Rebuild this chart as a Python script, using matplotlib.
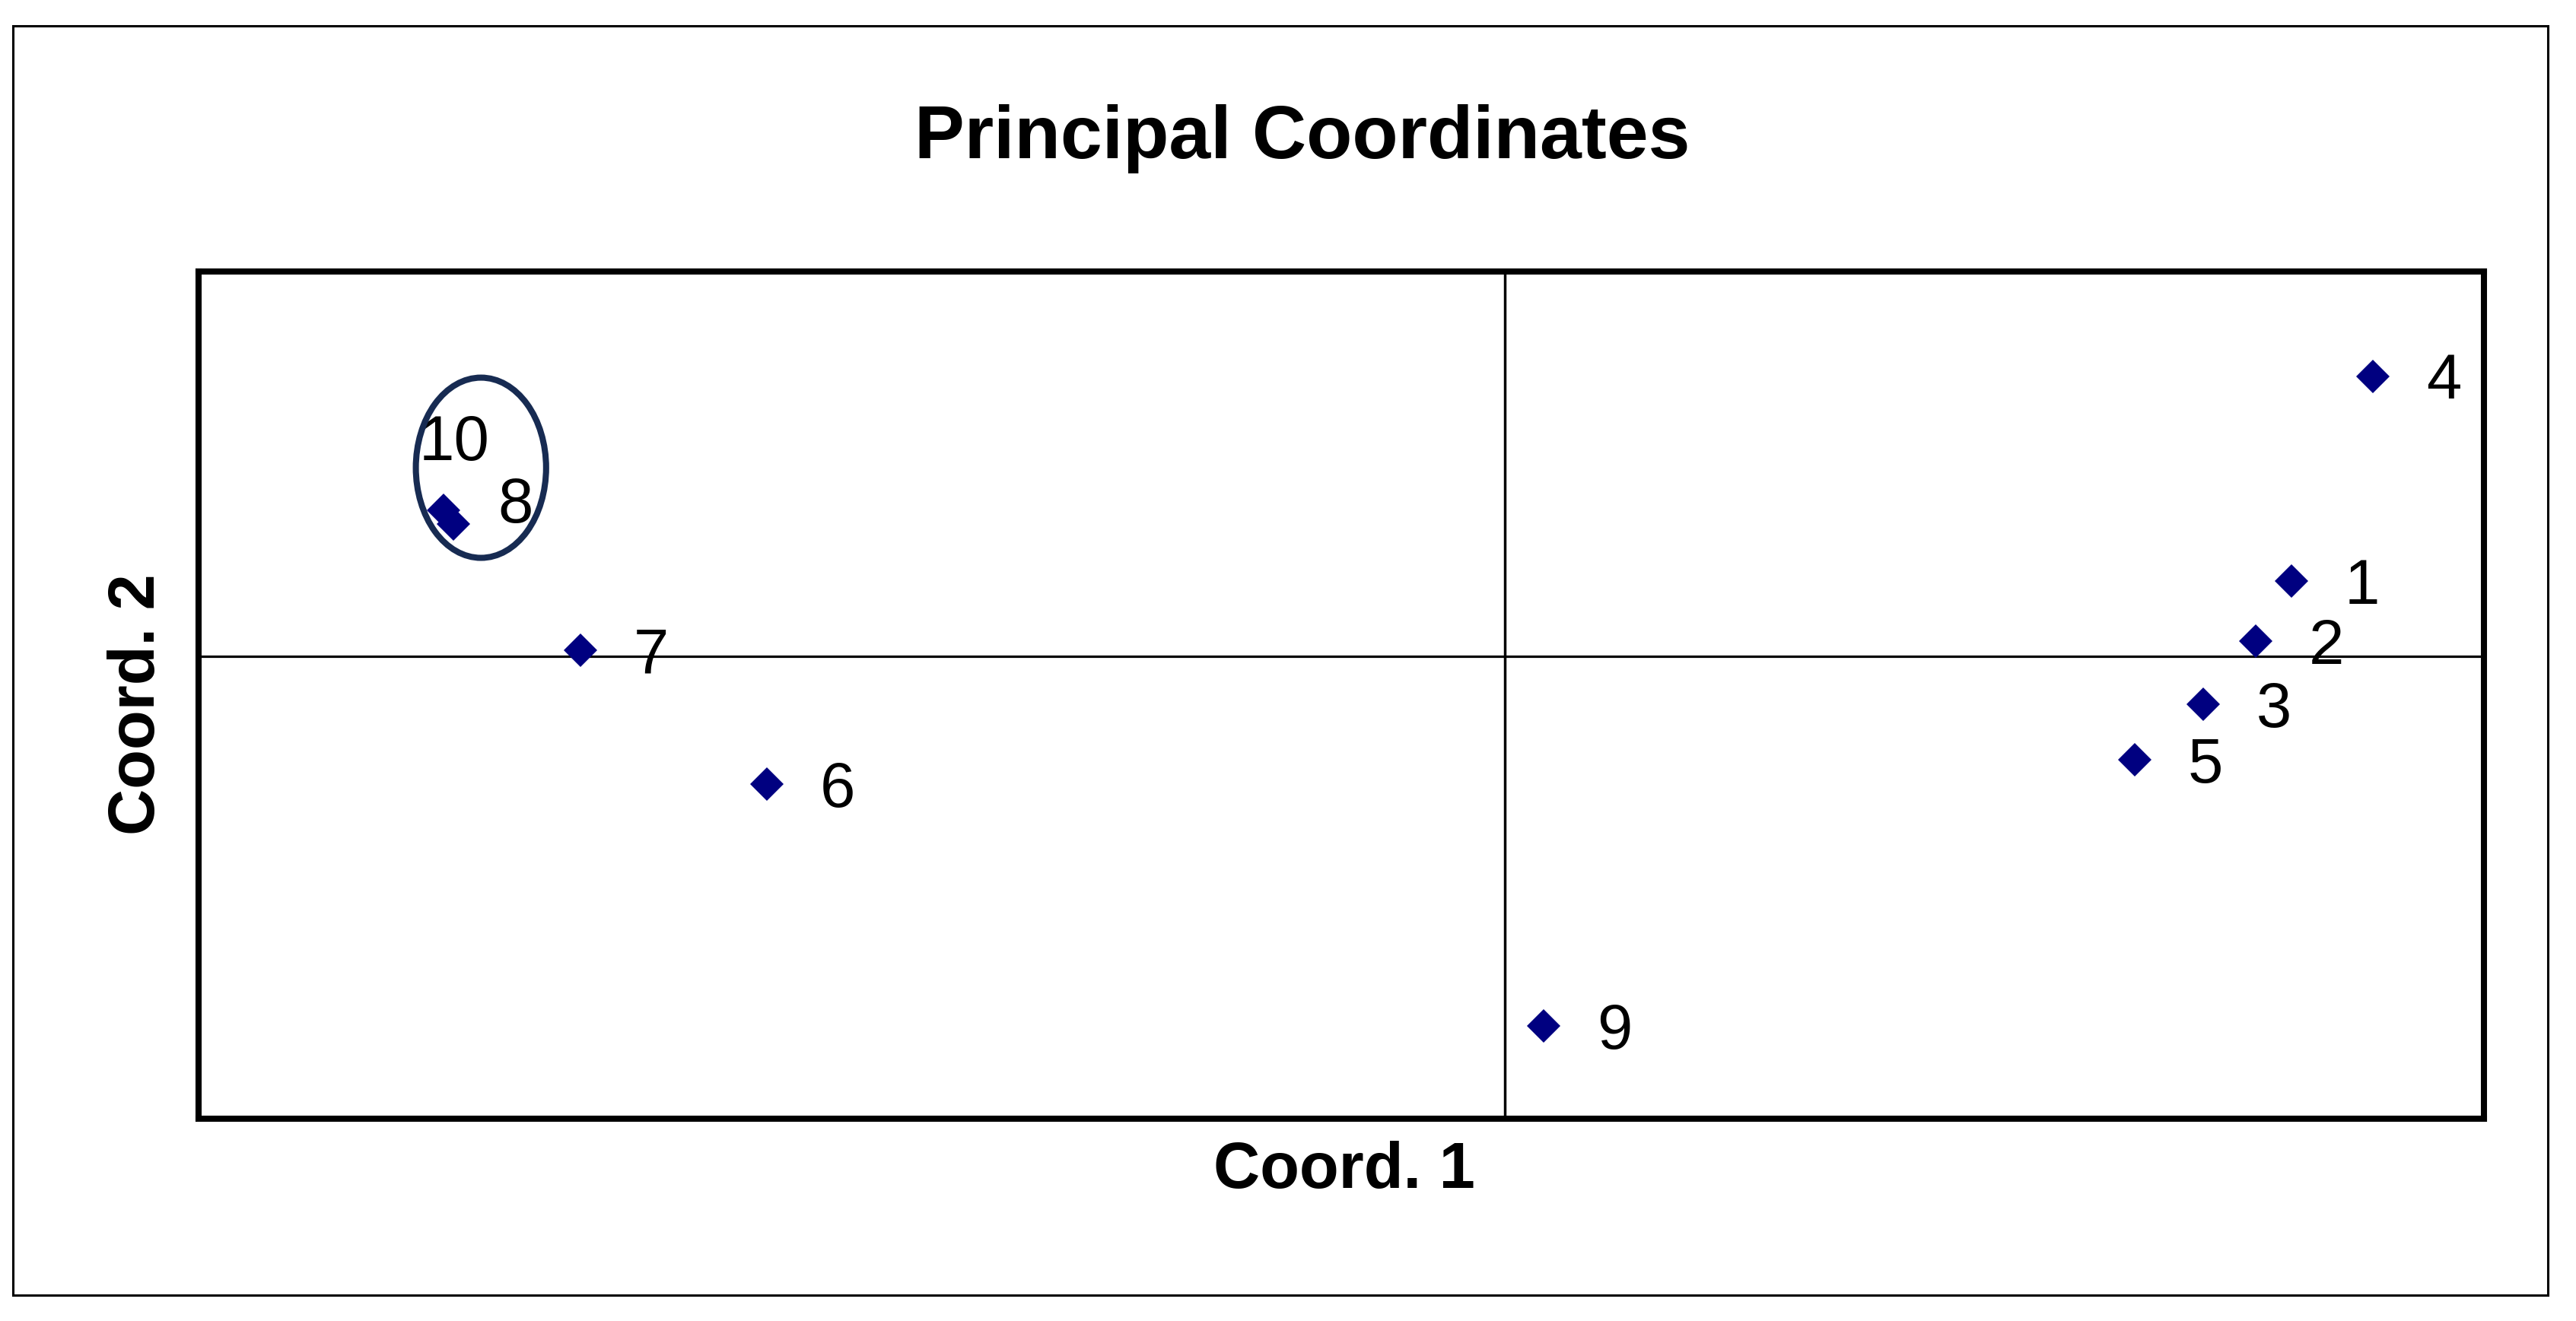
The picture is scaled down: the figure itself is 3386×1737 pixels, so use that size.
import matplotlib.pyplot as plt
from matplotlib.patches import Ellipse, Rectangle

# principal coordinates of the 10 samples
labels = ['1', '2', '3', '4', '5', '6', '7', '8', '9', '10']
coord1 = [0.241, 0.230, 0.214, 0.266, 0.193, -0.226, -0.283, -0.325, 0.012, -0.322]
coord2 = [0.049, 0.010, -0.031, 0.182, -0.067, -0.083, 0.004, 0.095, -0.240, 0.086]

TITLE = 'Principal Coordinates'
XLABEL = 'Coord. 1'
YLABEL = 'Coord. 2'

FONT = ['Liberation Sans', 'DejaVu Sans']
NAVY = '#000080'

fig = plt.figure(figsize=(33.87, 17.37), dpi=100)
W, H = 3387, 1737

def fx(px):
	return px / W

def fy(py):
	return 1 - py / H

# outer chart frame
fig.patches.append(Rectangle((fx(17), fy(1702.5)), fx(3349.5) - fx(17), fy(34) - fy(1702.5),
	transform=fig.transFigure, fill=False, edgecolor='black', linewidth=2.2))

ax = fig.add_axes([fx(261), fy(1471), fx(3265) - fx(261), fy(357) - fy(1471)])
ax.set_xlim(-0.4, 0.3)
ax.set_ylim(-0.3, 0.25)
ax.set_xticks([])
ax.set_yticks([])
for s in ax.spines.values():
	s.set_linewidth(5.8)

ax.axhline(0, color='black', linewidth=2.3, zorder=1)
ax.axvline(0, color='black', linewidth=2.5, zorder=1)

ax.plot(coord1, coord2, linestyle='none', marker='D', markersize=22.5,
	markerfacecolor=NAVY, markeredgewidth=0, zorder=3)

# label offsets in points (a few were moved by hand in the original)
offsets = {'8': (51.8, -11.5), '10': (-32.4, 60.5)}
for lab, x, y in zip(labels, coord1, coord2):
	dx, dy = offsets.get(lab, (50.4, -21.2))
	ax.annotate(lab, (x, y), xytext=(dx, dy), textcoords='offset points',
		ha='left', va='baseline', fontsize=60, family=FONT, color='black', zorder=4)

# ellipse round the 8/10 pair
ax.add_patch(Ellipse((-0.3135, 0.1226), 0.0399, 0.117, fill=False,
	edgecolor='#172B52', linewidth=5.8, zorder=5))

fig.text(fx(1712), fy(208), TITLE, ha='center', va='baseline', fontsize=71,
	fontweight='bold', family=FONT)
fig.text(fx(1767), fy(1562), XLABEL, ha='center', va='baseline', fontsize=61,
	fontweight='bold', family=FONT)
fig.text(fx(203), fy(926), YLABEL, ha='center', va='baseline', fontsize=61,
	fontweight='bold', family=FONT, rotation=90, rotation_mode='anchor')

fig.savefig('out.png', dpi=100)
